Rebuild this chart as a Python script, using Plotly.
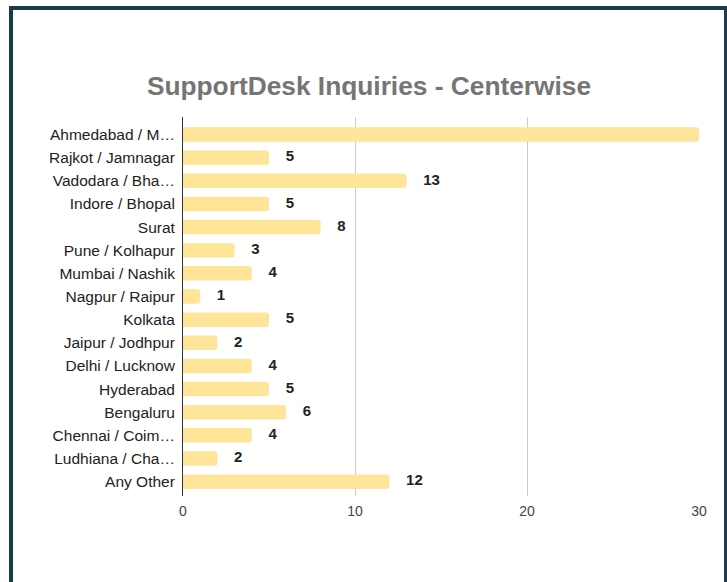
import plotly.graph_objects as go

categories = ["Ahmedabad / M…", "Rajkot / Jamnagar", "Vadodara / Bha…", "Indore / Bhopal",
              "Surat", "Pune / Kolhapur", "Mumbai / Nashik", "Nagpur / Raipur", "Kolkata",
              "Jaipur / Jodhpur", "Delhi / Lucknow", "Hyderabad", "Bengaluru",
              "Chennai / Coim…", "Ludhiana / Cha…", "Any Other"]
inquiries = [30, 5, 13, 5, 8, 3, 4, 1, 5, 2, 4, 5, 6, 4, 2, 12]
x_ticks = [0, 10, 20, 30]
title_text = "SupportDesk Inquiries - Centerwise"

W, H = 727, 582
L, R, T, B = 183, 699, 117, 496  # plot area in pixels

def px_x(p):
    return (p - L) / (R - L)

def px_y(p):
    return (B - p) / (B - T)

FONT = "Liberation Sans, Arial, sans-serif"
NB = "\u00a0"

fig = go.Figure()
fig.add_trace(go.Bar(
    x=inquiries, y=categories, orientation="h",
    marker=dict(color="#FFE599", cornerradius=3, line=dict(width=0)),
    hoverinfo="x+y",
))
fig.add_trace(go.Scatter(
    x=inquiries, y=categories, mode="text",
    text=[NB * 4 + str(v) for v in inquiries],
    textposition="middle right",
    textfont=dict(family=FONT, size=15, color="#222222", weight="bold"),
    cliponaxis=True, hoverinfo="skip", showlegend=False,
))

fig.update_layout(
    width=W, height=H,
    margin=dict(l=L, r=W - R, t=T, b=H - B, pad=0),
    paper_bgcolor="white", plot_bgcolor="white",
    showlegend=False,
    bargap=0.373,
    font=dict(family=FONT),
    title=dict(text=title_text, x=369 / W, xanchor="center", xref="container",
               y=1 - 86 / H, yanchor="middle", yref="container",
               font=dict(family=FONT, size=26.3, color="#757575", weight="bold")),
    xaxis=dict(range=[0, 30], tickvals=x_ticks, showgrid=True, gridcolor="#cccccc",
               gridwidth=1, zeroline=False, showline=False, ticks="",
               tickfont=dict(family=FONT, size=14, color="#444444"),
               ticklabelstandoff=5, fixedrange=True),
    yaxis=dict(type="category", range=[15.62, -0.756], showgrid=False, zeroline=False,
               showline=True, linecolor="#333333", linewidth=1, ticks="",
               tickfont=dict(family=FONT, size=15.5, color="#222222"),
               ticklabelstandoff=4, fixedrange=True),
    shapes=[dict(type="rect", xref="paper", yref="paper",
                 x0=px_x(11), x1=px_x(726), y0=px_y(620), y1=px_y(8),
                 line=dict(color="#1b3a4e", width=4), fillcolor="rgba(0,0,0,0)",
                 layer="above")],
)

fig.write_html("out.html", config={"displayModeBar": False},
               post_script="document.body.style.margin='0';document.body.style.overflow='hidden';")
